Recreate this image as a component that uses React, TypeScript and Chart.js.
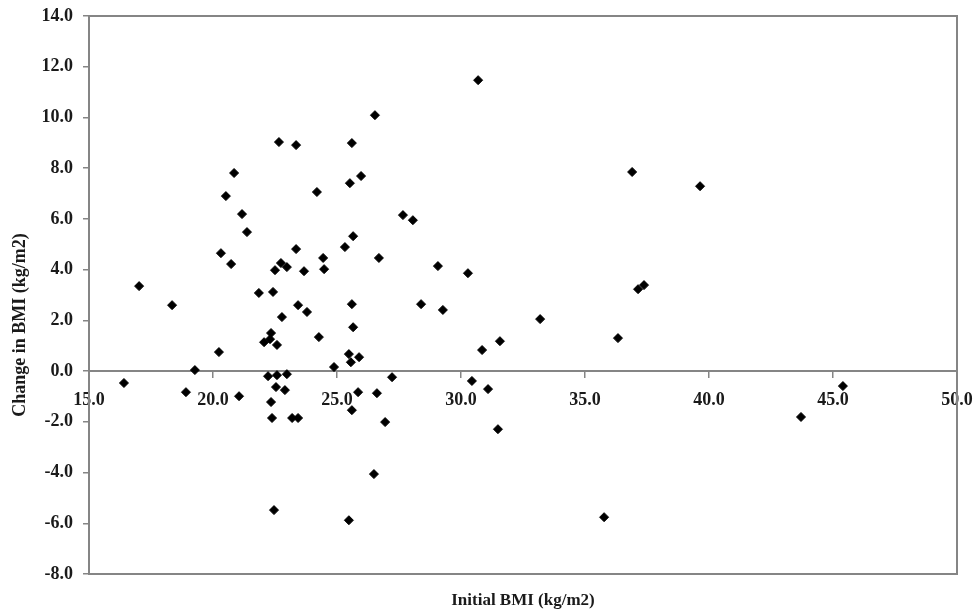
import React, { useEffect, useRef } from "react";
import { Chart, registerables } from "chart.js";

Chart.register(...registerables);

// Initial BMI (kg/m2) of each subject
const initialBMI = [
  16.41, 17.02, 18.35, 18.91, 19.27, 20.24, 20.32, 20.52, 20.73, 20.85,
  21.05, 21.17, 21.37, 21.85, 22.06, 22.3, 22.34, 22.58, 22.22, 22.58,
  22.98, 22.54, 22.9, 22.34, 22.38, 23.19, 23.43, 22.46, 22.42, 22.5,
  22.74, 22.98, 23.35, 22.66, 23.35, 22.78, 23.43, 23.79, 23.67, 24.19,
  24.27, 24.44, 24.48, 24.88, 25.32, 25.52, 25.6, 25.65, 25.97, 26.53,
  26.69, 25.6, 25.65, 25.48, 25.56, 25.89, 27.22, 25.85, 26.61, 25.6,
  26.94, 26.49, 25.48, 27.66, 28.06, 28.39, 29.07, 29.27, 30.28, 30.69,
  30.44, 30.85, 31.09, 31.49, 31.57, 33.19, 35.77, 36.33, 36.9, 37.14,
  37.38, 39.64, 43.71, 45.4,
];

// Change in BMI (kg/m2) of each subject
const changeBMI = [
  -0.47, 3.35, 2.6, -0.83, 0.04, 0.75, 4.65, 6.9, 4.22, 7.81,
  -0.99, 6.19, 5.48, 3.08, 1.14, 1.26, 1.5, 1.03, -0.2, -0.16,
  -0.12, -0.63, -0.75, -1.22, -1.85, -1.85, -1.85, -5.48, 3.12, 3.98,
  4.26, 4.1, 4.81, 9.03, 8.91, 2.13, 2.6, 2.33, 3.94, 7.06,
  1.34, 4.46, 4.02, 0.16, 4.89, 7.41, 8.99, 5.32, 7.69, 10.09,
  4.46, 2.64, 1.73, 0.67, 0.35, 0.55, -0.24, -0.83, -0.87, -1.54,
  -2.01, -4.06, -5.88, 6.15, 5.95, 2.64, 4.14, 2.41, 3.86, 11.47,
  -0.39, 0.83, -0.71, -2.29, 1.18, 2.05, -5.76, 1.3, 7.85, 3.23,
  3.39, 7.29, -1.81, -0.59,
];

const xRange = { min: 15, max: 50, step: 5 };
const yRange = { min: -8, max: 14, step: 2 };
const xTitle = "Initial BMI (kg/m2)";
const yTitle = "Change in BMI (kg/m2)";

const FONT = "'Liberation Serif', 'Times New Roman', serif";
const TEXT = "#1a1a1a";
const AXIS = "#858585";

export default function App() {
  const ref = useRef<HTMLCanvasElement | null>(null);

  useEffect(() => {
    if (!ref.current) return;
    const points = initialBMI.map((x, i) => ({ x, y: changeBMI[i] }));

    const framePlugin = {
      id: "frame",
      beforeDatasetsDraw(chart: any) {
        const { ctx, chartArea: a } = chart;
        ctx.save();
        ctx.strokeStyle = AXIS;
        ctx.lineWidth = 2;
        ctx.strokeRect(a.left, a.top, a.right - a.left, a.bottom - a.top);
        ctx.restore();
      },
    };

    const yTitlePlugin = {
      id: "ytitle",
      afterDraw(chart: any) {
        const { ctx } = chart;
        ctx.save();
        ctx.translate(20, 325);
        ctx.rotate(-Math.PI / 2);
        ctx.font = `bold 18px ${FONT}`;
        ctx.fillStyle = TEXT;
        ctx.textAlign = "center";
        ctx.textBaseline = "middle";
        ctx.fillText(yTitle, 0, 0);
        ctx.restore();
      },
    };

    const zeroPad = (scale: any) => {
      scale.paddingLeft = 0;
      scale.paddingRight = 0;
      scale.paddingTop = 0;
      scale.paddingBottom = 0;
    };

    const chart = new Chart(ref.current, {
      type: "scatter",
      data: {
        datasets: [
          {
            data: points,
            pointStyle: "rectRot",
            pointRadius: 4.5,
            pointBorderWidth: 1,
            backgroundColor: "#000",
            borderColor: "#000",
            xAxisID: "x",
            yAxisID: "y",
          },
        ],
      },
      options: {
        animation: false,
        responsive: false,
        maintainAspectRatio: false,
        layout: { padding: { top: 16, right: 17, left: 0, bottom: 0 } },
        plugins: {
          legend: { display: false },
          tooltip: { enabled: false },
        },
        scales: {
          x: {
            type: "linear",
            position: "bottom",
            min: xRange.min,
            max: xRange.max,
            grid: { display: false },
            border: { display: true, color: AXIS, width: 2 },
            ticks: { display: false, stepSize: xRange.step },
            title: {
              display: true,
              text: xTitle,
              color: TEXT,
              font: { family: FONT, size: 17, weight: "bold" },
              padding: 0,
            },
            afterFit(scale: any) {
              scale.height = 37;
              zeroPad(scale);
            },
          },
          x2: {
            type: "linear",
            position: { y: 0 } as any,
            min: xRange.min,
            max: xRange.max,
            grid: {
              drawOnChartArea: false,
              drawTicks: true,
              tickLength: 6,
              color: AXIS,
              lineWidth: 1.5,
            },
            border: { display: true, color: AXIS, width: 2 },
            ticks: {
              stepSize: xRange.step,
              padding: 12,
              color: TEXT,
              maxRotation: 0,
              autoSkip: false,
              font: { family: FONT, size: 18, weight: "bold" },
              callback: (v: any) => Number(v).toFixed(1),
            },
            afterFit(scale: any) {
              zeroPad(scale);
            },
          },
          y: {
            type: "linear",
            position: "left",
            min: yRange.min,
            max: yRange.max,
            grid: {
              drawOnChartArea: false,
              drawTicks: true,
              tickLength: 6,
              color: AXIS,
              lineWidth: 1.5,
            },
            border: { display: true, color: AXIS, width: 2 },
            ticks: {
              stepSize: yRange.step,
              padding: 10,
              color: TEXT,
              autoSkip: false,
              font: { family: FONT, size: 18, weight: "bold" },
              callback: (v: any) => Number(v).toFixed(1),
            },
            afterFit(scale: any) {
              scale.width = 89;
              zeroPad(scale);
            },
          },
        },
      },
      plugins: [framePlugin, yTitlePlugin],
    });

    return () => chart.destroy();
  }, []);

  return (
    <div
      style={{
        position: "fixed",
        left: 0,
        top: 0,
        width: 974,
        height: 611,
        background: "#fff",
      }}
    >
      <canvas ref={ref} width={974} height={611} style={{ display: "block" }} />
    </div>
  );
}
